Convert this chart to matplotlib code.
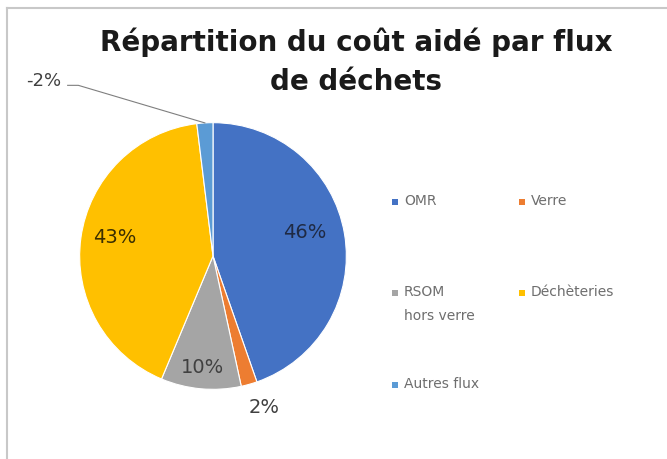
import matplotlib
matplotlib.use("Agg")
import matplotlib.pyplot as plt
from matplotlib.patches import Rectangle
from matplotlib.lines import Line2D
import numpy as np

# ---- data ----
categories = ["OMR", "Verre", "RSOM\nhors verre", "Déchèteries", "Autres flux"]
values = [46, 2, 10, 43, -2]          # percentages as shown on the labels
label_texts = ["46%", "2%", "10%", "43%", "-2%"]
colors = ["#4472C4", "#ED7D31", "#A5A5A5", "#FFC000", "#5B9BD5"]
title = "Répartition du coût aidé par flux\nde déchets"

W, H = 667, 459
fig = plt.figure(figsize=(W / 100, H / 100), dpi=100)
fig.patch.set_facecolor("white")

# border lines (top and left)
fig.add_artist(Line2D([7 / W, 1], [1 - 8 / H, 1 - 8 / H], color="#c8c8c8", lw=1.5))
fig.add_artist(Line2D([7 / W, 7 / W], [0, 1 - 8 / H], color="#c8c8c8", lw=1.5))

# pie axes
cx, cy, r = 213, 256, 136
ax = fig.add_axes([(cx - r) / W, 1 - (cy + r) / H, 2 * r / W, 2 * r / H])
ax.set_aspect("equal")
wedges, _ = ax.pie(np.abs(values), colors=colors, startangle=90, counterclock=False,
                   radius=1.0, wedgeprops=dict(edgecolor="white", linewidth=0.8))
ax.set_xlim(-1.02, 1.02)
ax.set_ylim(-1.02, 1.02)
ax.axis("off")

# data labels
label_r = [0.71, 1.20, 0.84, 0.75, None]
label_dang = [5, 3, 0, -3, 0]
label_col = ["#1f2a44", "#404040", "#404040", "#3a2e00", "#404040"]
for i, w in enumerate(wedges):
    mid = np.deg2rad((w.theta1 + w.theta2) / 2 + label_dang[i])
    if label_r[i] is not None:
        x, y = label_r[i] * np.cos(mid), label_r[i] * np.sin(mid)
        ax.text(x, y, label_texts[i], ha="center", va="center", fontsize=14,
                color=label_col[i], family="DejaVu Sans", clip_on=False)
    else:
        # leader line label
        ex, ey = np.cos(mid), np.sin(mid)
        tx, ty = -1.27, 1.31
        ax.plot([-1.09, -1.01, ex], [ty - 0.03, ty - 0.03, ey], color="#7f7f7f",
                lw=0.8, clip_on=False)
        ax.text(tx, ty, label_texts[i], ha="center", va="center", fontsize=13,
                color="#404040", family="DejaVu Sans", clip_on=False)

# title
fig.text(356 / W, 1 - 62 / H, title, ha="center", va="center", fontsize=20,
         fontweight="bold", family="DejaVu Sans", color="#1a1a1a", linespacing=1.5)

# legend (manual layout like Excel)
leg_pos = [(395, 202), (522, 202), (395, 293), (522, 293), (395, 385)]
for i, cat in enumerate(categories):
    px, py = leg_pos[i]
    fig.add_artist(Rectangle(((px - 3) / W, 1 - (py + 3) / H), 6 / W, 6 / H,
                             facecolor=colors[i], edgecolor="none"))
    fig.text((px + 9) / W, 1 - (py - 8) / H, cat, ha="left", va="top", fontsize=10,
             color="#6e6e6e", family="DejaVu Sans", linespacing=1.9)

fig.savefig("out.png", dpi=100, facecolor="white")
